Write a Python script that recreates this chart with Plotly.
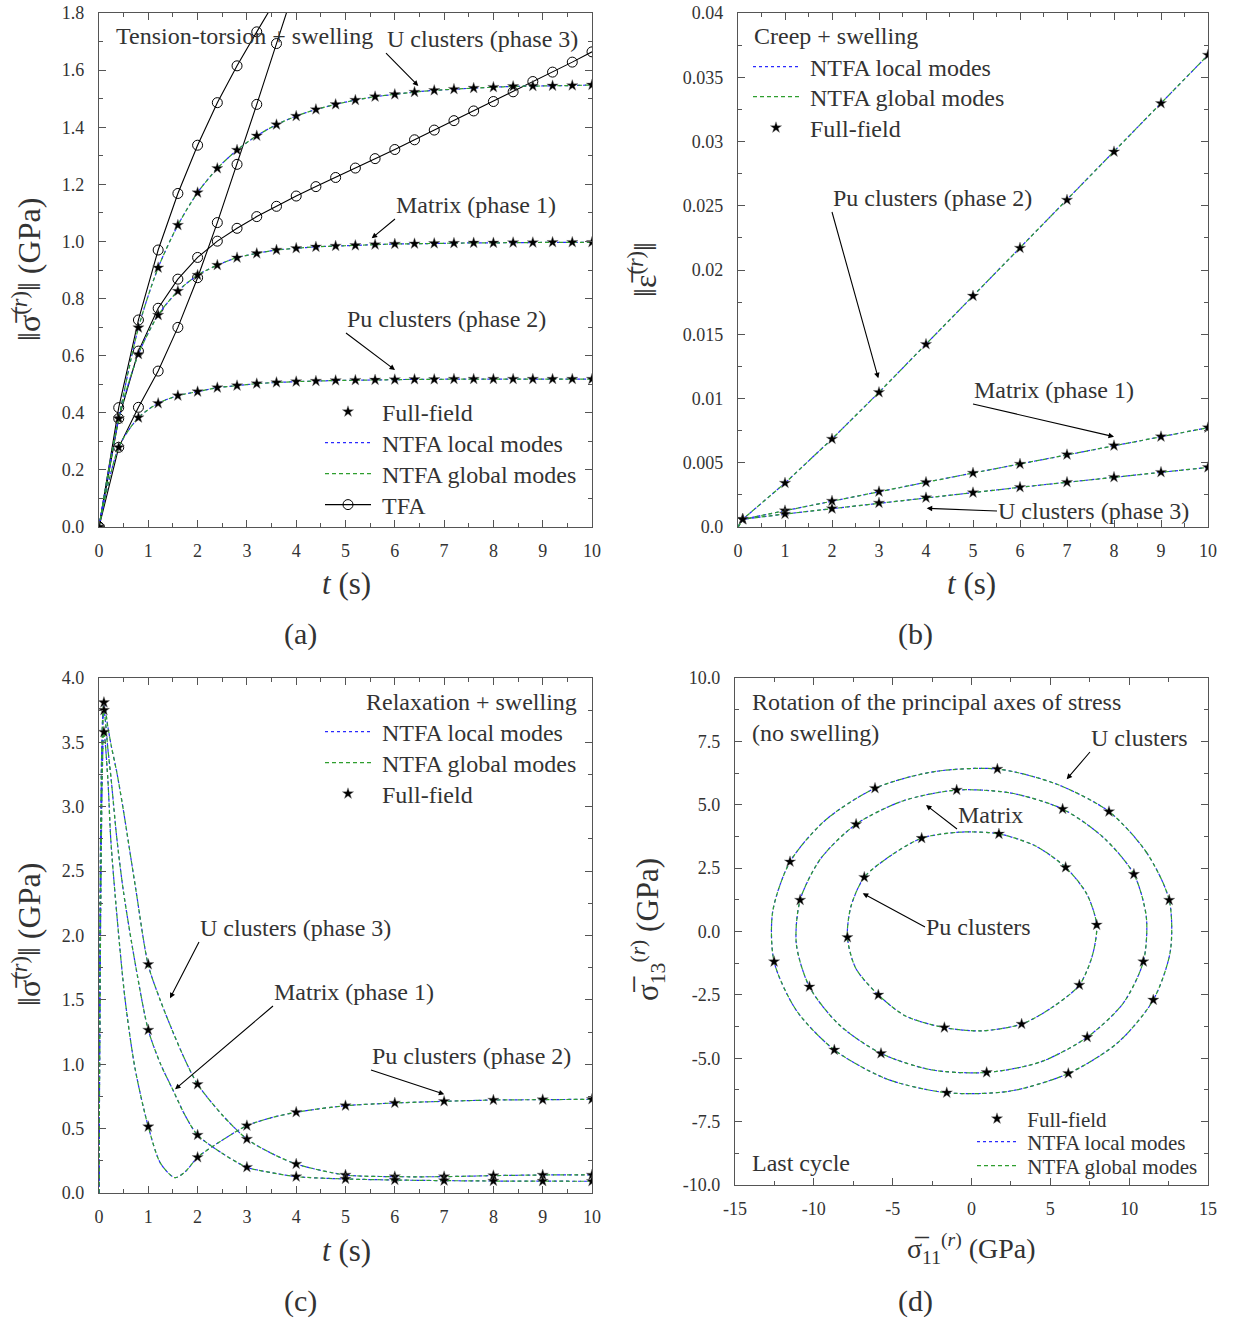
import plotly.graph_objects as go

FONT = "Liberation Serif"
TXT = "#333333"
AXC = "#555555"
BLUE = "#2a2aff"
GREEN = "#2e9e2e"
W, H = 1233, 1322
OFF = 0  # body margin removed below

# ---------------- Panel (a): tension-torsion + swelling ----------------
t_a = [0.0, 0.4, 0.8, 1.2, 1.6, 2.0, 2.4, 2.8, 3.2, 3.6, 4.0, 4.4, 4.8,
       5.2, 5.6, 6.0, 6.4, 6.8, 7.2, 7.6, 8.0, 8.4, 8.8, 9.2, 9.6, 10.0]
u_a = [0, 0.38, 0.698, 0.908, 1.057, 1.171, 1.256, 1.32, 1.37, 1.409, 1.439, 1.462, 1.48,
       1.495, 1.507, 1.515, 1.523, 1.529, 1.533, 1.537, 1.54, 1.543, 1.544, 1.545, 1.546, 1.548]
mat_a = [0, 0.38, 0.605, 0.742, 0.826, 0.882, 0.917, 0.943, 0.958, 0.97, 0.976, 0.981, 0.984,
         0.986, 0.989, 0.991, 0.992, 0.993, 0.994, 0.995, 0.995, 0.996, 0.996, 0.997, 0.997, 0.997]
pu_a = [0, 0.279, 0.383, 0.433, 0.46, 0.474, 0.488, 0.495, 0.502, 0.506, 0.509, 0.511, 0.513,
        0.514, 0.515, 0.516, 0.517, 0.517, 0.518, 0.518, 0.518, 0.518, 0.518, 0.518, 0.518, 0.518]
tfa1_t = [0.0, 0.4, 0.8, 1.2, 1.6, 2.0, 2.4, 2.8, 3.2, 3.6]
tfa1_v = [0, 0.418, 0.725, 0.97, 1.168, 1.337, 1.486, 1.615, 1.734, 1.85]
tfa2_v = [0, 0.38, 0.616, 0.766, 0.868, 0.944, 1.001, 1.046, 1.087, 1.123, 1.159, 1.192, 1.224,
          1.257, 1.29, 1.322, 1.356, 1.39, 1.423, 1.457, 1.49, 1.524, 1.56, 1.593, 1.628, 1.664]
tfa3_t = [0.0, 0.4, 0.8, 1.2, 1.6, 2.0, 2.4, 2.8, 3.2, 3.6, 4.0]
tfa3_v = [0, 0.279, 0.419, 0.546, 0.699, 0.873, 1.066, 1.27, 1.48, 1.693, 1.905]

# ---------------- Panel (b): creep + swelling ----------------
t_b_line = [0, 0.1, 1, 2, 3, 4, 5, 6, 7, 8, 9, 10]
t_b_star = [0.1, 1, 2, 3, 4, 5, 6, 7, 8, 9, 10]
pu_b = [0.0006, 0.00342, 0.00685, 0.01048, 0.01422, 0.01798, 0.02171, 0.02545, 0.0292, 0.03297, 0.03673]
mat_b = [0.0006, 0.00127, 0.00202, 0.00275, 0.00348, 0.0042, 0.0049, 0.00563, 0.00633, 0.00703, 0.00773]
u_b = [0.0006, 0.00101, 0.00143, 0.00187, 0.00228, 0.00267, 0.00309, 0.00348, 0.00387, 0.00426, 0.00464]

# ---------------- Panel (c): relaxation + swelling ----------------
t_c = [0, 0.1, 0.18, 0.25, 0.36, 0.5, 0.75, 1.0, 1.25, 1.5, 1.75, 2.0, 2.5, 3.0, 3.5, 4.0,
       5.0, 6.0, 7.0, 8.0, 9.0, 10.0]
u_c = [0, 3.81, 3.62, 3.47, 3.27, 2.96, 2.35, 1.77, 1.49, 1.25, 1.03, 0.844, 0.606, 0.419, 0.308,
       0.225, 0.14, 0.127, 0.127, 0.135, 0.14, 0.14]
mat_c = [0, 3.75, 3.45, 3.2, 2.76, 2.33, 1.75, 1.266, 1.0, 0.8, 0.6, 0.45, 0.308, 0.2, 0.158,
         0.127, 0.109, 0.101, 0.096, 0.093, 0.092, 0.091]
t_c_pu = [0, 0.1, 0.18, 0.24, 0.36, 0.53, 0.73, 1.0, 1.25, 1.54, 1.75, 2.0, 2.5, 3.0, 3.5, 4.0,
          5.0, 6.0, 7.0, 8.0, 9.0, 10.0]
pu_c = [0, 3.58, 3.21, 2.74, 2.17, 1.5, 0.97, 0.515, 0.23, 0.119, 0.166, 0.277, 0.41, 0.523,
        0.585, 0.627, 0.678, 0.699, 0.712, 0.722, 0.725, 0.728]
t_c_star = [0.1, 1, 2, 3, 4, 5, 6, 7, 8, 9, 10]
u_c_star = [3.81, 1.776, 0.844, 0.419, 0.225, 0.14, 0.127, 0.127, 0.135, 0.14, 0.14]
mat_c_star = [3.75, 1.266, 0.45, 0.2, 0.127, 0.109, 0.101, 0.096, 0.093, 0.092, 0.091]
pu_c_star = [3.58, 0.515, 0.277, 0.523, 0.627, 0.678, 0.699, 0.712, 0.722, 0.725, 0.728]

# ---------------- Panel (d): rotation of principal axes (last cycle) ----------------
u_d_sx = [12.54, 8.72, 1.64, -6.12, -11.51, -12.52, -8.7, -1.57, 6.14, 11.53]
u_d_sy = [1.24, 4.73, 6.41, 5.65, 2.75, -1.19, -4.67, -6.36, -5.6, -2.7]
mat_d_sx = [10.3, 5.78, -0.94, -7.32, -10.87, -10.28, -5.74, 0.96, 7.34, 10.9]
mat_d_sy = [2.26, 4.83, 5.58, 4.23, 1.24, -2.18, -4.81, -5.56, -4.17, -1.19]
pu_d_sx = [7.94, 5.97, 1.74, -3.16, -6.8, -7.87, -5.91, -1.72, 3.18, 6.84]
pu_d_sy = [0.26, 2.53, 3.85, 3.68, 2.14, -0.23, -2.5, -3.79, -3.65, -2.11]
u_d_lx = [12.54, 11.11, 8.72, 5.37, 1.64, -2.42, -6.12, -9.29, -11.51, -12.61, -12.52, -11.11,
          -8.7, -5.37, -1.57, 2.42, 6.14, 9.29, 11.53, 12.61, 12.54]
u_d_ly = [1.24, 3.11, 4.73, 5.82, 6.41, 6.30, 5.65, 4.38, 2.75, 0.78, -1.19, -3.11,
          -4.67, -5.82, -6.36, -6.30, -5.6, -4.38, -2.7, -0.78, 1.24]
mat_d_lx = [11.09, 10.3, 8.38, 5.78, 2.51, -0.94, -4.36, -7.32, -9.56, -10.87, -11.11, -10.28,
            -8.41, -5.74, -2.51, 0.96, 4.36, 7.34, 9.62, 10.9, 11.09]
mat_d_ly = [0.556, 2.26, 3.70, 4.83, 5.46, 5.58, 5.15, 4.23, 2.88, 1.24, -0.49, -2.18,
            -3.67, -4.81, -5.46, -5.56, -5.15, -4.17, -2.83, -1.19, 0.556]
pu_d_lx = [7.94, 7.32, 5.97, 4.07, 1.74, -0.69, -3.16, -5.08, -6.8, -7.65, -7.87, -7.34,
           -5.91, -4.19, -1.72, 0.63, 3.18, 5.15, 6.84, 7.66, 7.94]
pu_d_ly = [0.26, 1.47, 2.53, 3.37, 3.85, 3.92, 3.68, 3.01, 2.14, 0.98, -0.23, -1.45,
           -2.5, -3.33, -3.79, -3.92, -3.65, -2.98, -2.11, -0.96, 0.26]

SP = "\u00a0"
fig = go.Figure()

def ntfa(x, y, xa, ya, leg_l=None, leg_g=None, shape="spline"):
    fig.add_trace(go.Scatter(x=x, y=y, mode="lines", xaxis=xa, yaxis=ya,
                             line=dict(color=BLUE, width=1.2, dash="dot", shape=shape, smoothing=0.8),
                             name=SP + "NTFA local modes", legend=leg_l or "legend",
                             showlegend=leg_l is not None))
    fig.add_trace(go.Scatter(x=x, y=y, mode="lines", xaxis=xa, yaxis=ya,
                             line=dict(color=GREEN, width=1.2, dash="4px,3px", shape=shape, smoothing=0.8),
                             name=SP + "NTFA global modes", legend=leg_g or "legend",
                             showlegend=leg_g is not None))

def stars(x, y, xa, ya, leg=None):
    fig.add_trace(go.Scatter(x=x, y=y, mode="markers", xaxis=xa, yaxis=ya,
                             marker=dict(symbol="star", size=8.5, color="black",
                                         line=dict(color="#777777", width=0.4)),
                             name=SP + "Full-field", legend=leg or "legend", showlegend=leg is not None))

# Panel (a)
for tt, vv in [(tfa1_t, tfa1_v), (t_a, tfa2_v), (tfa3_t, tfa3_v)]:
    fig.add_trace(go.Scatter(x=tt, y=vv, mode="lines+markers", xaxis="x", yaxis="y",
                             line=dict(color="black", width=1.1),
                             marker=dict(symbol="circle-open", size=10, color="black", line=dict(width=1)),
                             name=SP + "TFA", legend="legend4", showlegend=(vv is tfa1_v)))
first = True
for vv in [u_a, mat_a, pu_a]:
    ntfa(t_a, vv, "x", "y", "legend2" if first else None, "legend3" if first else None)
    stars(t_a, vv, "x", "y", "legend" if first else None)
    first = False

# Panel (b)
first = True
for vv in [pu_b, mat_b, u_b]:
    ntfa(t_b_line, [0] + vv, "x2", "y2", "legend5" if first else None,
         "legend6" if first else None, shape="linear")
    stars(t_b_star, vv, "x2", "y2", "legend7" if first else None)
    first = False

# Panel (c)
first = True
for tt, vv, vs in [(t_c, u_c, u_c_star), (t_c, mat_c, mat_c_star), (t_c_pu, pu_c, pu_c_star)]:
    ntfa(tt, vv, "x3", "y3", "legend8" if first else None, "legend9" if first else None)
    stars(t_c_star, vs, "x3", "y3", "legend10" if first else None)
    first = False

# Panel (d)
first = True
for lx, ly, sx, sy in [(u_d_lx, u_d_ly, u_d_sx, u_d_sy), (mat_d_lx, mat_d_ly, mat_d_sx, mat_d_sy),
                       (pu_d_lx, pu_d_ly, pu_d_sx, pu_d_sy)]:
    ntfa(lx, ly, "x4", "y4", "legend12" if first else None, "legend13" if first else None)
    stars(sx, sy, "x4", "y4", "legend11" if first else None)
    first = False

def px_x(p):
    return (p - OFF) / W

def px_y(p):
    return 1 - (p - OFF) / H

def axis(domain, rng, dtick, minor, anchor, standoff, **kw):
    d = dict(domain=domain, range=rng, dtick=dtick, anchor=anchor, showline=True, linecolor=AXC,
             linewidth=1.3, mirror="ticks", ticks="inside", ticklen=7, tickwidth=1, tickcolor=AXC,
             minor=dict(ticks="inside", ticklen=4, dtick=minor, tickcolor=AXC, tickwidth=1),
             showgrid=False, zeroline=False, automargin=False, ticklabeloverflow="allow",
             ticklabelstandoff=standoff,
             tickfont=dict(family=FONT, size=18, color=TXT))
    d.update(kw)
    return d

xa_dom = [px_x(99), px_x(592)]
xb_dom = [px_x(738), px_x(1208)]
xd_dom = [px_x(735), px_x(1208)]
ytop_dom = [px_y(527), px_y(13)]
yc_dom = [px_y(1193), px_y(678)]
yd_dom = [px_y(1185), px_y(678)]

b_ticks = [0, 0.005, 0.01, 0.015, 0.02, 0.025, 0.03, 0.035, 0.04]
b_text = ["0.0", "0.005", "0.01", "0.015", "0.02", "0.025", "0.03", "0.035", "0.04"]
d_xticks = [-15, -10, -5, 0, 5, 10, 15]
d_xtext = ["-15", "-10", "-5", "0", "5", "10", "15"]
d_yticks = [-10, -7.5, -5, -2.5, 0, 2.5, 5, 7.5, 10]
d_ytext = ["-10.0", "-7.5", "-5.0", "-2.5", "0.0", "2.5", "5.0", "7.5", "10.0"]

def leg(px, py, size=24, iw=46):
    return dict(x=px_x(px), y=px_y(py), xanchor="left", yanchor="middle", bgcolor="rgba(0,0,0,0)",
                borderwidth=0, itemwidth=iw, font=dict(family=FONT, size=size, color=TXT))

LA = 320
XS, YS = 7, 10
fig.update_layout(
    template="none",
    width=W, height=H, autosize=False, margin=dict(l=0, r=0, t=0, b=0, pad=0),
    paper_bgcolor="white", plot_bgcolor="white",
    xaxis=axis(xa_dom, [0, 10], 1, 0.5, "y", XS, tickformat="d"),
    yaxis=axis(ytop_dom, [0, 1.8], 0.2, 0.1, "x", YS, tickformat=".1f"),
    xaxis2=axis(xb_dom, [0, 10], 1, 0.5, "y2", XS, tickformat="d"),
    yaxis2=axis(ytop_dom, [0, 0.04], 0.005, 0.0025, "x2", YS, tickvals=b_ticks, ticktext=b_text),
    xaxis3=axis(xa_dom, [0, 10], 1, 0.5, "y3", XS, tickformat="d"),
    yaxis3=axis(yc_dom, [0, 4.0], 0.5, 0.25, "x3", YS, tickformat=".1f"),
    xaxis4=axis(xd_dom, [-15, 15], 5, 2.5, "y4", XS, tickvals=d_xticks, ticktext=d_xtext),
    yaxis4=axis(yd_dom, [-10, 10], 2.5, 1.25, "x4", YS, tickvals=d_yticks, ticktext=d_ytext),
    legend=leg(LA, 412), legend2=leg(LA, 443), legend3=leg(LA, 474), legend4=leg(LA, 505),
    legend5=leg(748, 67), legend6=leg(748, 97), legend7=leg(748, 128),
    legend8=leg(LA, 732), legend9=leg(LA, 763), legend10=leg(LA, 794),
    legend11=leg(972, 1119, 21, 40), legend12=leg(972, 1142, 21, 40), legend13=leg(972, 1166, 21, 40),
)

# pixel (reference image) -> data helpers for annotation placement
def da(px, py):
    return (px - 99) / 49.3, (527 - py) / 285.56

def db(px, py):
    return (px - 738) / 47.0, (527 - py) / 12850.0

def dc(px, py):
    return (px - 99) / 49.3, (1193 - py) / 128.75

def dd(px, py):
    return (px - 971.5) / 15.77, (931.5 - py) / 25.35

AX = {"a": ("x", "y", da), "b": ("x2", "y2", db), "c": ("x3", "y3", dc), "d": ("x4", "y4", dd)}
ann = []
TS = 24

def text(panel, px, py, s, anchor="left"):
    xr, yr, f = AX[panel]
    x, y = f(px, py)
    ann.append(dict(x=x, y=y, xref=xr, yref=yr, text=s, showarrow=False, xanchor=anchor,
                    yanchor="middle", font=dict(family=FONT, size=TS, color=TXT)))

def label_arrow(panel, s, head, tail, yanchor="bottom"):
    xr, yr, f = AX[panel]
    hx, hy = f(*head)
    tx, ty = f(*tail)
    ann.append(dict(x=hx, y=hy, ax=tx, ay=ty, xref=xr, yref=yr, axref=xr, ayref=yr, text=s,
                    xanchor="left", yanchor=yanchor, showarrow=True, arrowhead=2, arrowsize=1,
                    arrowwidth=1.1, arrowcolor="black", standoff=0, startstandoff=0, borderpad=0,
                    font=dict(family=FONT, size=TS, color=TXT)))

# (a)
text("a", 114, 36, "Tension-torsion + swelling")
label_arrow("a", "U clusters (phase 3)", (418.3, 86), (386, 53))
label_arrow("a", "Matrix (phase 1)", (371.7, 238.3), (395, 219))
label_arrow("a", "Pu clusters (phase 2)", (395, 370), (346, 333))
# (b)
text("b", 752, 36, "Creep + swelling")
label_arrow("b", "Pu clusters (phase 2)", (878.3, 378.3), (832, 212))
label_arrow("b", "Matrix (phase 1)", (1114, 436.7), (973, 404))
label_arrow("b", "U clusters (phase 3)", (926.7, 508.3), (997, 511), yanchor="middle")
# (c)
text("c", 579, 702, "Relaxation + swelling", anchor="right")
label_arrow("c", "U clusters (phase 3)", (170, 998.3), (199, 942))
label_arrow("c", "Matrix (phase 1)", (175, 1089.3), (273, 1006))
label_arrow("c", "Pu clusters (phase 2)", (444.3, 1094.3), (371, 1070))
# (d)
text("d", 750, 702, "Rotation of the principal axes of stress")
text("d", 750, 733, "(no swelling)")
label_arrow("d", "U clusters", (1066.7, 779.3), (1090, 752))
label_arrow("d", "Matrix", (926, 805), (957, 829))
label_arrow("d", "Pu clusters", (862.7, 893.3), (925, 927), yanchor="middle")
text("d", 750, 1163, "Last cycle")

def ptext(px, py, s, size=31, angle=0):
    ann.append(dict(x=px_x(px), y=px_y(py), xref="paper", yref="paper", text=s, showarrow=False,
                    xanchor="center", yanchor="middle", textangle=angle,
                    font=dict(family=FONT, size=size, color=TXT)))

sig = "‖σ\u0305<sup>(<i>r</i>)</sup>‖ (GPa)"
ptext(27, 270, sig, size=32, angle=-90)
ptext(346, 583, "<i>t</i> (s)")
ptext(643, 270, "‖ε\u0305<sup>(<i>r</i>)</sup>‖", size=32, angle=-90)
ptext(971, 583, "<i>t</i> (s)")
ptext(27, 935, sig, size=32, angle=-90)
ptext(346, 1250, "<i>t</i> (s)")
ptext(648, 930, "σ\u0305<sub>13</sub><sup>(<i>r</i>)</sup> (GPa)", size=31, angle=-90)
ptext(971, 1248, "σ\u0305<sub>11</sub><sup>(<i>r</i>)</sup> (GPa)", size=28)
ptext(300, 634, "(a)", size=30)
ptext(915, 634, "(b)", size=30)
ptext(300, 1301, "(c)", size=30)
ptext(915, 1301, "(d)", size=30)

fig.update_layout(annotations=ann)
fig.write_html("out.html", config={"displayModeBar": False},
               post_script="document.body.style.margin='0';document.body.style.padding='0';")
